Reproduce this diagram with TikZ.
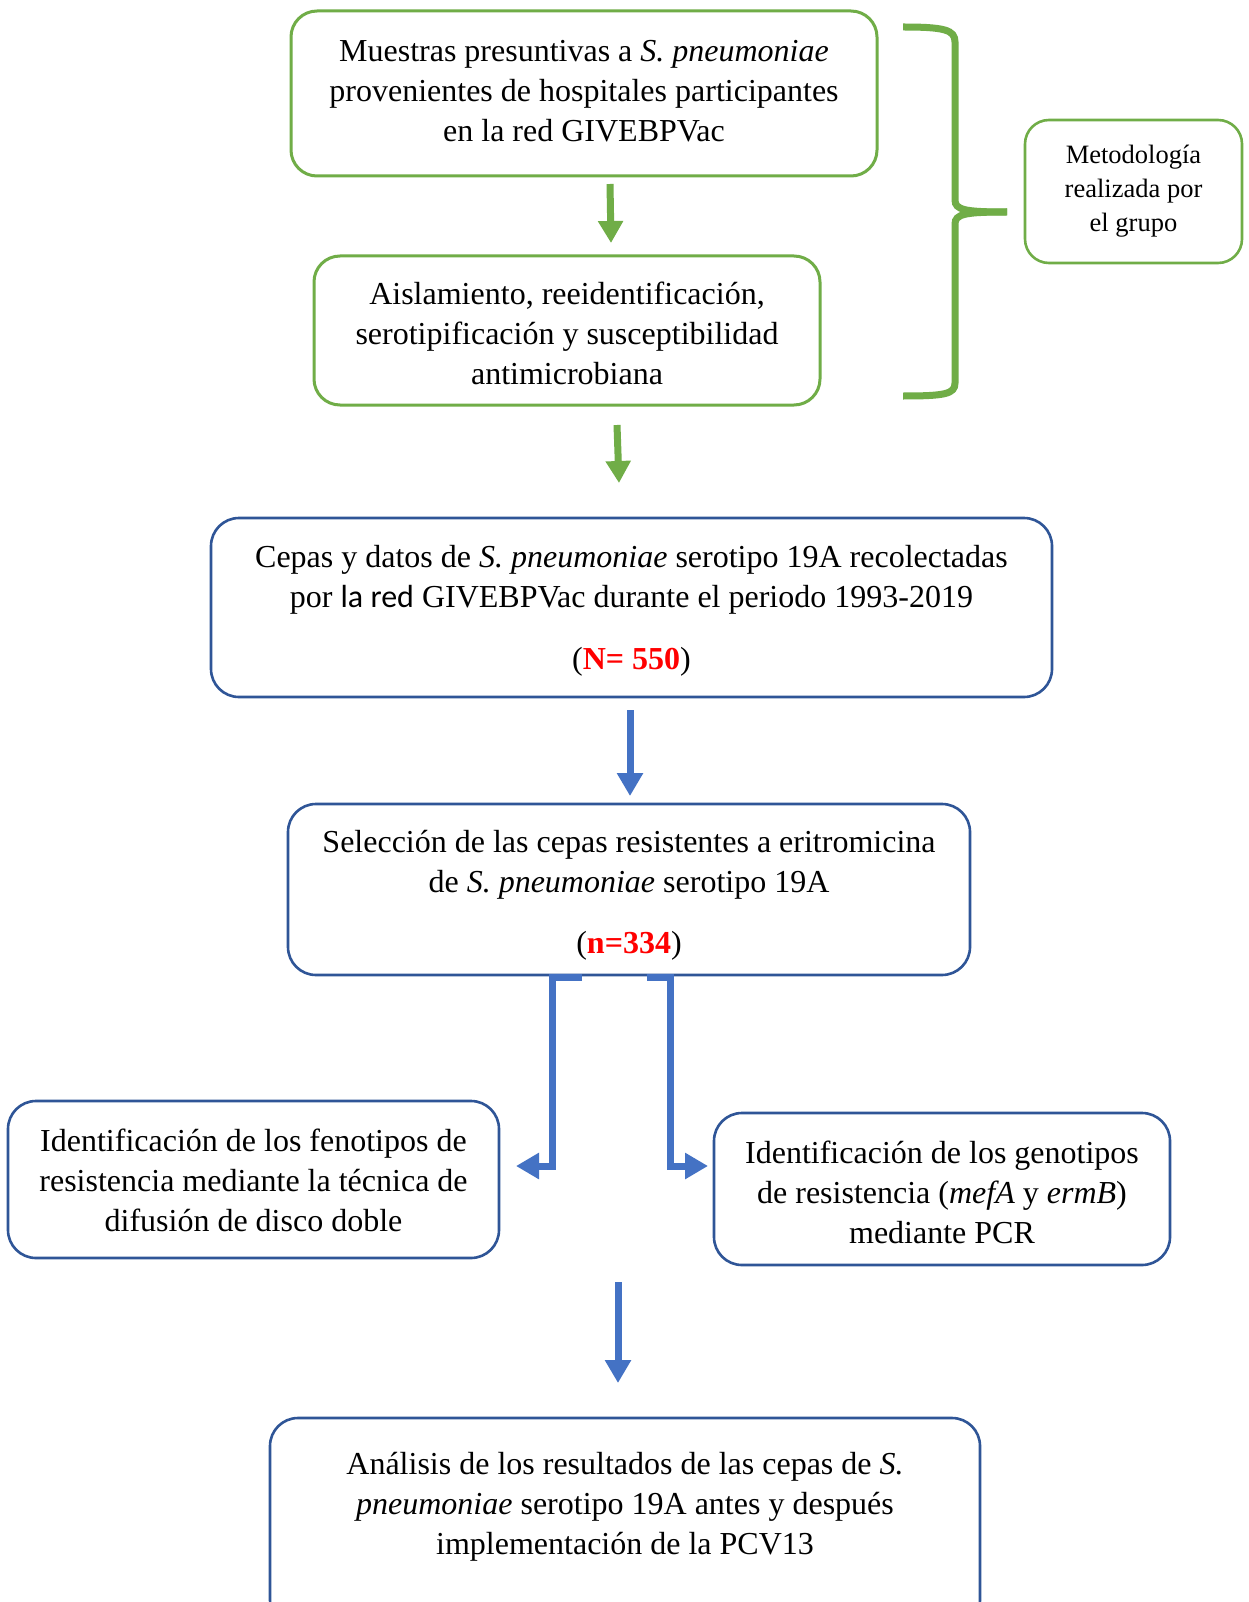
\documentclass[tikz,border=0pt]{standalone}
\usepackage{fontspec}
\setmainfont{Liberation Serif}
\newfontfamily\calib{Carlito}
\usetikzlibrary{arrows.meta}
\definecolor{gr}{HTML}{70AD47}
\definecolor{bl}{HTML}{2F5597}
\definecolor{ba}{HTML}{4472C4}
\definecolor{rd}{HTML}{FF0000}
\tikzset{
  gbox/.style={draw=gr, line width=3pt, rounded corners=26pt, inner sep=0pt},
  bbox/.style={draw=bl, line width=2.6pt, rounded corners=28pt, inner sep=0pt},
  txt/.style={align=center, inner sep=0pt, font=\fontsize{32}{40}\selectfont},
  garrow/.style={draw=gr, line width=7pt, -{Triangle[width=24pt,length=22pt]}},
  barrow/.style={draw=ba, line width=7pt, -{Triangle[width=25pt,length=23pt]}},
  bconn/.style={draw=ba, line width=7pt, -{Triangle[width=25pt,length=23pt]}},
}
\begin{document}
\begin{tikzpicture}[x=1pt,y=-1pt]
\useasboundingbox (0,0) rectangle (1248,1602);
\fill[white] (0,0) rectangle (1248,1602);

\node[gbox, minimum width=586pt, minimum height=165pt] (b1) at (584,93.5) {};
\node[txt] (t1) at (584,91.5)
  {Muestras presuntivas a \textit{S. pneumoniae}\\ provenientes de hospitales participantes\\ en la red GIVEBPVac};
\node[gbox, minimum width=506pt, minimum height=149pt] (b2) at (567,330.5) {};
\node[txt] (t2) at (567,333.5)
  {Aislamiento, reeidentificación,\\ serotipificación y susceptibilidad\\ antimicrobiana};
\node[gbox, line width=2.6pt, rounded corners=24pt, minimum width=217pt, minimum height=143pt,
  align=center, font=\fontsize{26.5}{34}\selectfont] (met) at (1133.5,191.5)
  {Metodología\\ realizada por\\ el grupo};

\node[bbox, minimum width=841pt, minimum height=179pt] (b3) at (631.5,607.5) {};
\node[txt] (t3) at (631.5,610.5)
  {Cepas y datos de \textit{S. pneumoniae} serotipo 19A recolectadas\\
   por {\calib la red} GIVEBPVac durante el periodo 1993-2019\\[22pt]
   (\textcolor{rd}{\textbf{N= 550}})};
\node[bbox, minimum width=682pt, minimum height=171pt] (b4) at (629,889.5) {};
\node[txt] (t4) at (629,895.5)
  {Selección de las cepas resistentes a eritromicina\\
   de \textit{S. pneumoniae} serotipo 19A\\[21pt]
   (\textcolor{rd}{\textbf{n=334}})};
\node[bbox, minimum width=491pt, minimum height=157pt] (b5) at (253.5,1179.5) {};
\node[txt] (t5) at (253.5,1180.5)
  {Identificación de los fenotipos de\\ resistencia mediante la técnica de\\ difusión de disco doble};
\node[bbox, minimum width=456pt, minimum height=152pt] (b6) at (942,1189) {};
\node[txt] (t6) at (942,1192)
  {Identificación de los genotipos\\ de resistencia (\textit{mefA} y \textit{ermB})\\ mediante PCR};
\node[bbox, minimum width=710pt, minimum height=210pt] (b7) at (625,1523) {};
\node[txt] (t7) at (625,1507)
  {Análisis de los resultados de las cepas de \textit{S.}\\
   \textit{pneumoniae} serotipo 19A antes y después\\ implementación de la PCV13};

% brace
\draw[gr, line width=7pt] (903,27) .. controls (945,27) and (955,30) .. (955,42)
  -- (955,200) .. controls (955,210) and (965,212) .. (1007,212);
\draw[gr, line width=7pt] (1007,212) .. controls (965,212) and (955,214) .. (955,224)
  -- (955,383) .. controls (955,394) and (945,396) .. (903,396);

% green arrows
\coordinate (a1s) at (610,184); \coordinate (a1e) at (611,243);
\draw[garrow] (a1s) -- (a1e);
\coordinate (a2s) at (617,425); \coordinate (a2e) at (619,483);
\draw[garrow] (a2s) -- (a2e);

% blue arrows
\coordinate (a3s) at (630,710); \coordinate (a3e) at (630,796);
\draw[barrow] (a3s) -- (a3e);
\coordinate (a4s) at (618,1282); \coordinate (a4e) at (618,1383);
\draw[barrow] (a4s) -- (a4e);

% split connectors
\coordinate (l0) at (582,977); \coordinate (l1) at (552,977); \coordinate (l2) at (552,1166);
\coordinate (l3) at (516,1166);
\draw[bconn] (l0) -- (l1) -- (l2) -- (l3);
\coordinate (r0) at (647,977); \coordinate (r1) at (670,977); \coordinate (r2) at (670,1166);
\coordinate (r3) at (708,1166);
\draw[bconn] (r0) -- (r1) -- (r2) -- (r3);
\end{tikzpicture}
\end{document}
